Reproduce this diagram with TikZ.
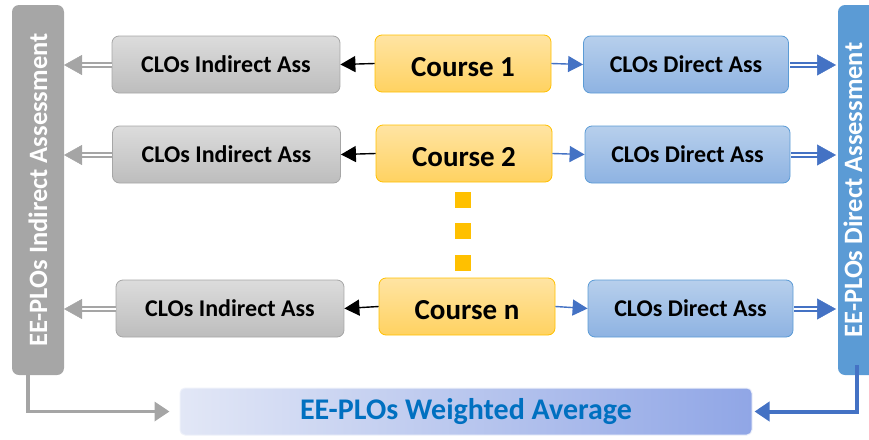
\documentclass[tikz,border=0pt]{standalone}
\usepackage{fontspec}
\setmainfont{Carlito}
\usetikzlibrary{arrows.meta}
\definecolor{grayedge}{HTML}{A6A6A6}
\definecolor{graytop}{HTML}{DCDCDC}
\definecolor{graybot}{HTML}{BDBDBD}
\definecolor{ylwedge}{HTML}{FFC000}
\definecolor{ylwtop}{HTML}{FFE4A3}
\definecolor{ylwbot}{HTML}{FFD261}
\definecolor{bluedge}{HTML}{5B9BD5}
\definecolor{blutop}{HTML}{B7CFEC}
\definecolor{blubot}{HTML}{8EB3E2}
\definecolor{arrblue}{HTML}{4472C4}
\definecolor{txtblue}{HTML}{0070C0}
\definecolor{avgl}{HTML}{E2E7F6}
\definecolor{avgr}{HTML}{90A6E6}
\definecolor{arrgray}{HTML}{A5A5A5}
\begin{document}
\begin{tikzpicture}[x=1pt,y=-1pt,
  indbox/.style={draw=grayedge, line width=0.8pt, rounded corners=7pt, top color=graytop, bottom color=graybot, minimum width=228pt, minimum height=57pt, font=\bfseries\fontsize{24}{28}\selectfont},
  crsbox/.style={draw=ylwedge, line width=0.8pt, rounded corners=7pt, top color=ylwtop, bottom color=ylwbot, minimum width=176pt, minimum height=57pt, font=\bfseries\fontsize{29}{34}\selectfont},
  dirbox/.style={draw=bluedge, line width=0.8pt, rounded corners=7pt, top color=blutop, bottom color=blubot, minimum width=205pt, minimum height=57pt, font=\bfseries\fontsize{24}{28}\selectfont},
  dotsq/.style={fill=ylwedge, minimum size=16pt, inner sep=0pt},
  blk/.style={black, line width=1.4pt, -{Triangle[length=15pt,width=16pt]}},
  blu/.style={arrblue, line width=1.4pt, -{Triangle[length=15pt,width=16pt]}},
  dblgray/.style={arrgray, double=white, double distance=2.4pt, line width=1.6pt},
  dblblue/.style={arrblue, double=white, double distance=2.4pt, line width=1.6pt},
  tipgray/.style={arrgray, line width=0.5pt, -{Triangle[length=18pt,width=20pt]}},
  tipblue/.style={arrblue, line width=0.5pt, -{Triangle[length=19pt,width=21pt]}},
  bargray/.style={arrgray, line width=3.5pt, -{Triangle[length=15pt,width=19pt]}},
  barblue/.style={arrblue, line width=4pt, -{Triangle[length=15pt,width=19pt]}},
  side/.style={font=\bfseries\fontsize{26.5}{30}\selectfont, text=white, rotate=90}
]
\useasboundingbox (0,0) rectangle (869,439);
\clip (0,0) rectangle (869,439);
% side bars
\node[fill=grayedge, rounded corners=7pt, minimum width=52pt, minimum height=370pt, inner sep=0pt] (lbar) at (38,190) {};
\node[side] (ltxt) at (lbar.center) {EE-PLOs Indirect Assessment};
\node[fill=bluedge, rounded corners=7pt, minimum width=52pt, minimum height=370pt, inner sep=0pt] (rbar) at (864,190) {};
\node[side] (rtxt) at (853,190) {EE-PLOs Direct Assessment};
% rows
\node[indbox] (i1) at (226,64.5) {CLOs Indirect Ass};
\node[crsbox] (c1) at (463,63.5) {\raisebox{-4pt}[\height][\depth]{Course 1}};
\node[dirbox] (d1) at (686,64.5) {CLOs Direct Ass};
\node[indbox] (i2) at (226.5,154.5) {CLOs Indirect Ass};
\node[crsbox] (c2) at (464,153.5) {\raisebox{-4pt}[\height][\depth]{Course 2}};
\node[dirbox] (d2) at (687.5,154.5) {CLOs Direct Ass};
\node[indbox] (i3) at (230,308.5) {CLOs Indirect Ass};
\node[crsbox] (c3) at (467,306.5) {\raisebox{-4pt}[\height][\depth]{Course n}};
\node[dirbox] (d3) at (690.5,308.5) {CLOs Direct Ass};
% dots
\node[dotsq] (s1) at (463,200) {};
\node[dotsq] (s2) at (463,231) {};
\node[dotsq] (s3) at (463,263) {};
% arrows
\foreach \n in {1,2,3}{
  \draw[blk] (c\n.west) -- (i\n.east);
  \draw[blu] (c\n.east) -- (d\n.west);
}
\coordinate (la1) at (64,65);
\coordinate (la2) at (64,155);
\coordinate (la3) at (64,309);
\coordinate (ra1) at (836,65);
\coordinate (ra2) at (836,155);
\coordinate (ra3) at (836,309);
\foreach \n in {1,2,3}{
  \draw[dblgray] (i\n.west|-la\n) -- ([xshift=16pt]la\n);
  \draw[tipgray] ([xshift=17pt]la\n) -- (la\n);
  \draw[dblblue] ([xshift=1pt]d\n.east|-ra\n) -- ([xshift=-17pt]ra\n);
  \draw[tipblue] ([xshift=-18pt]ra\n) -- (ra\n);
}
% bottom box
\node[draw=avgl!60!white, line width=1pt, rounded corners=5pt, left color=avgl, right color=avgr, minimum width=572pt, minimum height=47pt, font=\bfseries\fontsize{30}{34}\selectfont, text=txtblue] (avg) at (466,411.5) {EE-PLOs Weighted Average};
\coordinate (lb) at (28,375);
\coordinate (rb) at (857,365);
\draw[bargray] (lb) |- ([xshift=-10pt]avg.west);
\draw[barblue] (rb) |- ([xshift=2pt]avg.east);
\end{tikzpicture}
\end{document}
